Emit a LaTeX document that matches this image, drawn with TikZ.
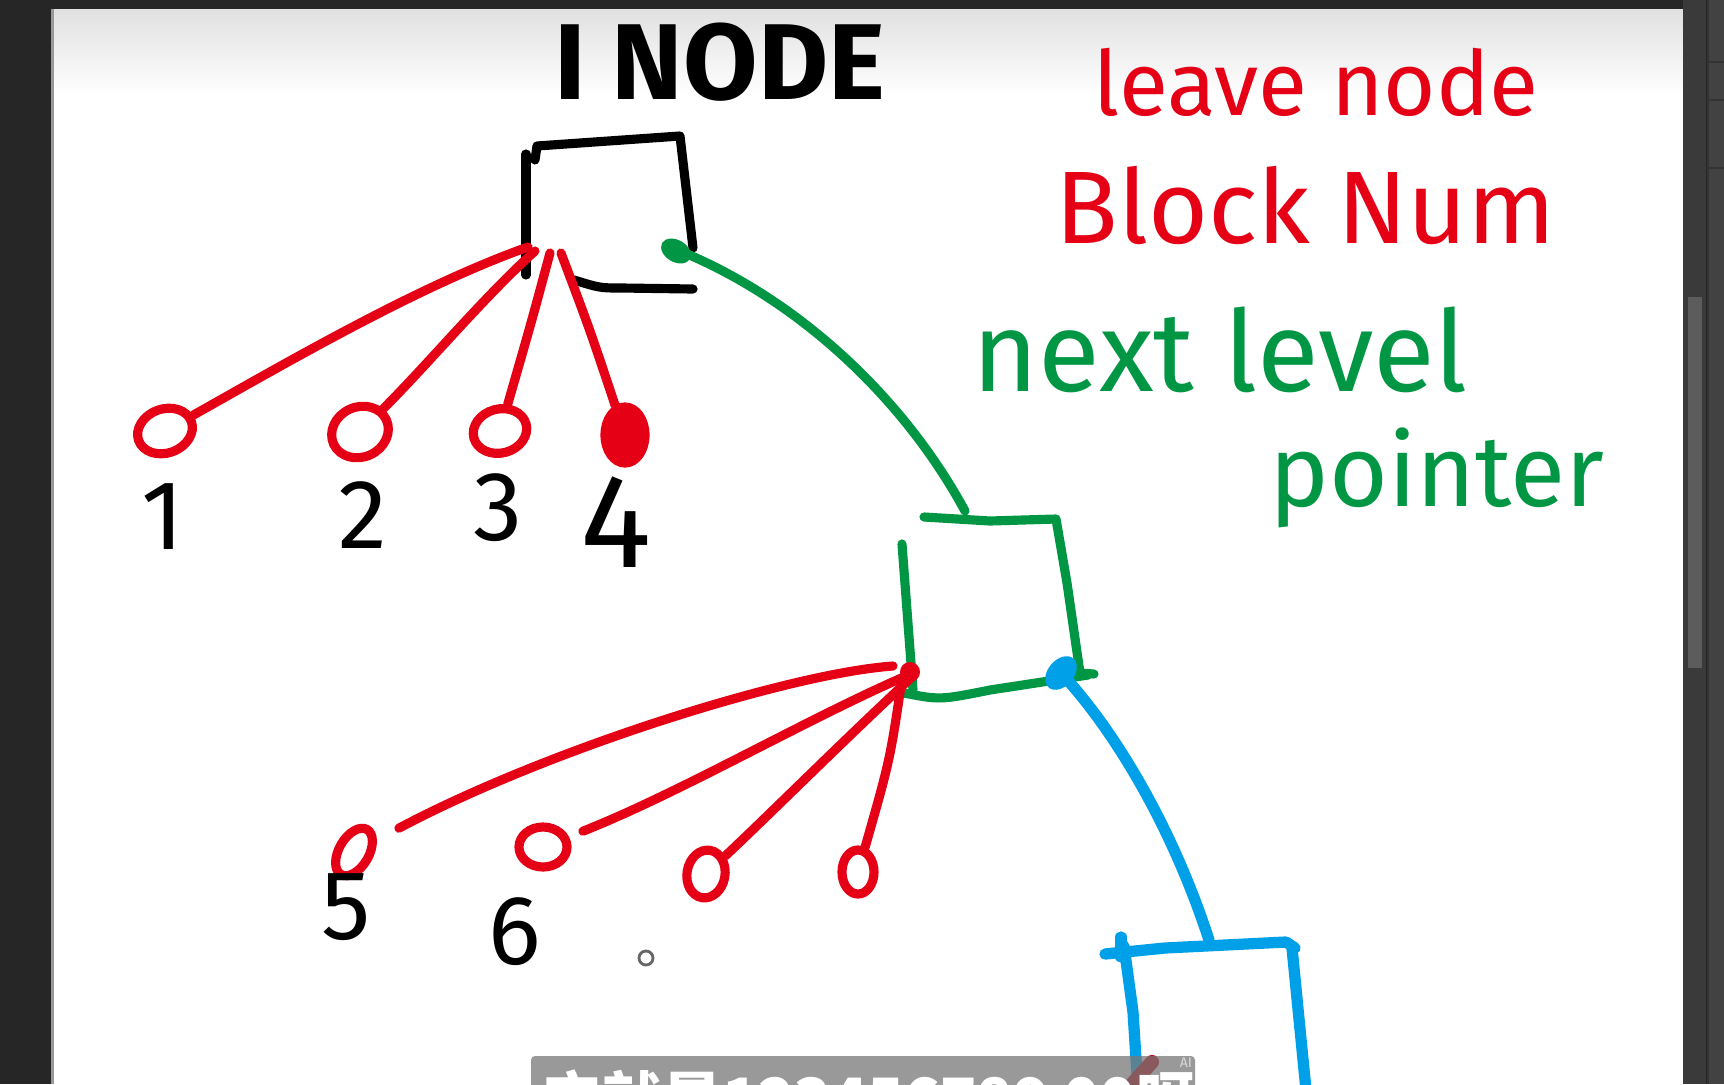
\documentclass[tikz,border=0pt]{standalone}
\usepackage{fontspec}
\setmainfont{Fira Sans}
\newfontfamily\cjk{Noto Sans CJK SC}
\usepackage{graphicx}
\usetikzlibrary{shapes.geometric}
\definecolor{hred}{RGB}{230,0,22}
\definecolor{hgreen}{RGB}{0,150,68}
\definecolor{hblue}{RGB}{0,160,232}
\definecolor{bgdark}{RGB}{38,38,38}
\definecolor{chan}{RGB}{58,58,58}
\definecolor{thumb}{RGB}{92,92,92}
\definecolor{panel}{RGB}{66,66,66}
\tikzset{
  pen/.style={line width=2.6pt, line cap=round, line join=round},
  blackpen/.style={pen, draw=black},
  redpen/.style={pen, draw=hred},
  greenpen/.style={pen, draw=hgreen},
  bluepen/.style={pen, draw=hblue, line width=3.2pt},
  leaf/.style={ellipse, draw=hred, line width=2.6pt, inner sep=0pt},
  hand/.style={inner sep=0pt, font=\mdseries},
  num/.style={inner sep=0pt, text=black, font=\mdseries\fontsize{28}{30}\selectfont},
}
\begin{document}
\begin{tikzpicture}[x=0.01cm,y=-0.01cm]
\useasboundingbox (0,0) rectangle (1724,1084);
% window chrome
\fill[bgdark] (0,0) rectangle (1724,1084);
\fill[white] (52,9) rectangle (1683,1084);
\shade[top color=black!12, bottom color=white] (52,9) rectangle (1683,95);
\draw[black!40, line width=0.6pt] (52.5,9) -- (52.5,1084);
\fill[chan] (1683,0) rectangle (1706,1084);
\fill[thumb] (1688,297) rectangle (1702,668);
\fill[panel] (1708,0) rectangle (1724,1084);
\draw[black!80, line width=0.5pt] (1708,0) -- (1708,1084);
\draw[black!80, line width=0.5pt] (1708,62) -- (1724,62) (1708,100) -- (1724,100) (1708,168) -- (1724,168);

% titles
\node[inner sep=0pt, text=black, font=\bfseries] (title) at (720,62) {\resizebox{3.3cm}{!}{I NODE}};
\node[hand, text=hred] (leave) at (1316,82) {\resizebox{4.45cm}{!}{leave node}};
\node[hand, text=hred] (block) at (1306,205) {\resizebox{5.0cm}{!}{Block Num}};
\node[hand, text=hgreen] (next) at (1220,350) {\resizebox{4.95cm}{!}{next level}};
\node[hand, text=hgreen] (pointer) at (1437,478) {\resizebox{3.35cm}{!}{pointer}};

% inode box (black)
\draw[blackpen] (526,154) -- (526,275);
\draw[blackpen] (535,160) -- (537,146) -- (680,136) -- (693,248);
\draw[blackpen] (574,280) .. controls (600,288) .. (622,288) -- (693,289);
\coordinate (p1) at (528,247);
\coordinate (p2) at (535,251);
\coordinate (p3) at (550,253);
\coordinate (p4) at (561,253);

% leaf circles, level 1
\node[leaf, minimum width=0.56cm, minimum height=0.44cm, rotate=20] (c1) at (165,431) {};
\node[leaf, minimum width=0.58cm, minimum height=0.5cm, rotate=25] (c2) at (360,432) {};
\node[leaf, minimum width=0.54cm, minimum height=0.44cm, rotate=15] (c3) at (500,431) {};
\node[leaf, fill=hred, minimum width=0.4cm, minimum height=0.56cm] (c4) at (625,435) {};

\draw[redpen] (p1) .. controls (418,286) and (286,363) .. (c1);
\draw[redpen] (p2) .. controls (484,297) and (429,363) .. (c2);
\draw[redpen] (p3) .. controls (532,320) .. (c3);
\draw[redpen] (p4) .. controls (590,330) .. (c4);

\node[num] (n1) at (163,517) {1};
\node[num] (n2) at (363,515) {2};
\node[num] (n3) at (498,508) {3};
\node[num, font=\mdseries\fontsize{38}{40}\selectfont] (n4) at (616,522) {4};

% green pointer to level-2 block
\coordinate (g1) at (680,251);
\coordinate (g2) at (965,511);
\fill[hgreen, rotate around={-30:(676,251)}] (676,251) ellipse (0.16cm and 0.11cm);
\draw[greenpen] (g1) .. controls (800,300) and (905,400) .. (g2);

% level-2 block (green)
\draw[greenpen] (924,517) -- (990,521) -- (1056,519) -- (1067,583) -- (1080,673) -- (1094,674);
\draw[greenpen] (902,544) -- (913,690);
\draw[greenpen] (904,693) .. controls (940,700) .. (990,690) -- (1088,675);

% leaf circles, level 2
\coordinate (m1) at (893,666);
\coordinate (m2) at (913,673);
\coordinate (m3) at (913,676);
\coordinate (m4) at (902,679);
\fill[hred] (910,672) circle (0.1cm);
\node[leaf, minimum width=0.3cm, minimum height=0.52cm, rotate=-30] (c5) at (354,852) {};
\node[leaf, minimum width=0.48cm, minimum height=0.4cm] (c6) at (543,847) {};
\node[leaf, minimum width=0.38cm, minimum height=0.48cm, rotate=-10] (c7) at (706,874) {};
\node[leaf, minimum width=0.32cm, minimum height=0.44cm] (c8) at (858,872) {};

\draw[redpen, shorten >=0.25cm] (m1) .. controls (792,673) and (550,748) .. (c5);
\draw[redpen, shorten >=0.15cm] (m2) .. controls (814,715) and (682,792) .. (c6);
\draw[redpen] (m3) .. controls (847,737) and (770,814) .. (c7);
\draw[redpen] (m4) .. controls (890,760) .. (c8);

\node[num] (n5) at (346,907) {5};
\node[num] (n6) at (515,932) {6};
\draw[black!60, line width=0.8pt] (646,958) circle (0.07cm);

% blue pointer to level-3 block
\coordinate (q1) at (1061,673);
\coordinate (q2) at (1209,940);
\fill[hblue, rotate around={-40:(1061,673)}] (1061,673) ellipse (0.13cm and 0.19cm);
\draw[bluepen] (q1) .. controls (1110,725) and (1170,820) .. (q2);

% level-3 block (blue)
\draw[bluepen] (1105,954) -- (1165,948) -- (1286,942) -- (1295,948);
\draw[bluepen] (1121,937) -- (1121,957);
\draw[bluepen] (1124,946) -- (1133,1012) -- (1138,1090);
\draw[bluepen] (1292,948) -- (1306,1090);

% stroke under caption
\draw[redpen, draw=hred!85!black, line width=4pt] (1125,1092) -- (1152,1062);

% caption bar (cut off by the frame, as in the screenshot)
\begin{scope}
\clip (531,1056) rectangle (1195,1084);
\fill[black!53, opacity=0.75, rounded corners=0.04cm] (531,1056) rectangle (1195,1100);
\node[inner sep=0pt, anchor=base west, text=white, font=\cjk\bfseries\fontsize{17}{20}\selectfont] (cap) at (542,1121) {它就是123456789 00呀};
\node[inner sep=0pt, text=white!85!black, font=\fontsize{4}{5}\selectfont] (ai) at (1186,1063) {AI};
\end{scope}
\end{tikzpicture}
\end{document}
